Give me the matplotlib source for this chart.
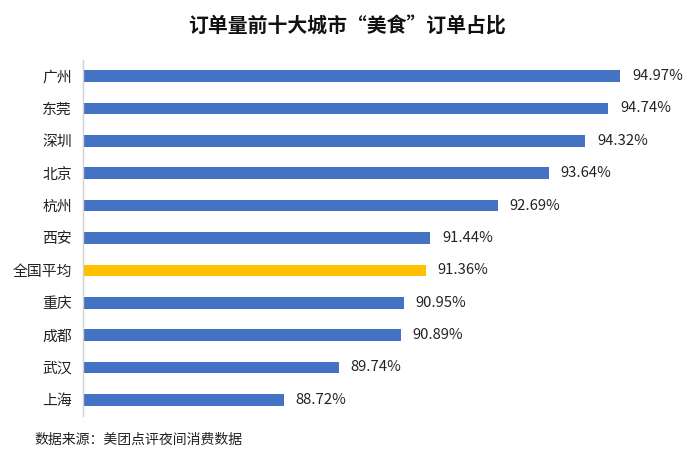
import matplotlib

matplotlib.use("Agg")
import matplotlib.pyplot as plt

plt.rcParams["font.family"] = ["Noto Sans CJK SC", "DejaVu Sans"]

cities = ["广州", "东莞", "深圳", "北京", "杭州", "西安", "全国平均", "重庆", "成都", "武汉", "上海"]
shares = [94.97, 94.74, 94.32, 93.64, 92.69, 91.44, 91.36, 90.95, 90.89, 89.74, 88.72]
highlight = "全国平均"

BLUE = "#4472C4"
GOLD = "#FFC000"

fig = plt.figure(figsize=(6.94, 4.68), dpi=100)
fig.patch.set_facecolor("white")
ax = fig.add_axes([0.12, 0.111, 0.854, 0.761])

ypos = list(range(len(cities)))
colors = [GOLD if c == highlight else BLUE for c in cities]
ax.barh(ypos, shares, height=0.36, color=colors, left=0)

for y, v in zip(ypos, shares):
    ax.text(v + 0.22, y, f"{v:.2f}%", va="center", ha="left", fontsize=10.7, color="#222222")

ax.set_xlim(85, 96)
ax.set_ylim(len(cities) - 0.5, -0.5)
ax.set_yticks(ypos)
ax.set_yticklabels(cities, fontsize=10.7, color="#222222")
ax.tick_params(axis="y", length=0, pad=8)
ax.set_xticks([])
for side in ("top", "right", "bottom"):
    ax.spines[side].set_visible(False)
ax.spines["left"].set_color("#d0d0d0")
ax.spines["left"].set_linewidth(1.0)

fig.text(0.5, 0.945, "订单量前十大城市“美食”订单占比", ha="center", va="center",
         fontsize=14.3, fontweight="bold", color="#111111")
fig.text(0.05, 0.06, "数据来源：美团点评夜间消费数据", ha="left", va="center",
         fontsize=10, color="#222222")

fig.savefig("out.png", dpi=100, facecolor="white")
